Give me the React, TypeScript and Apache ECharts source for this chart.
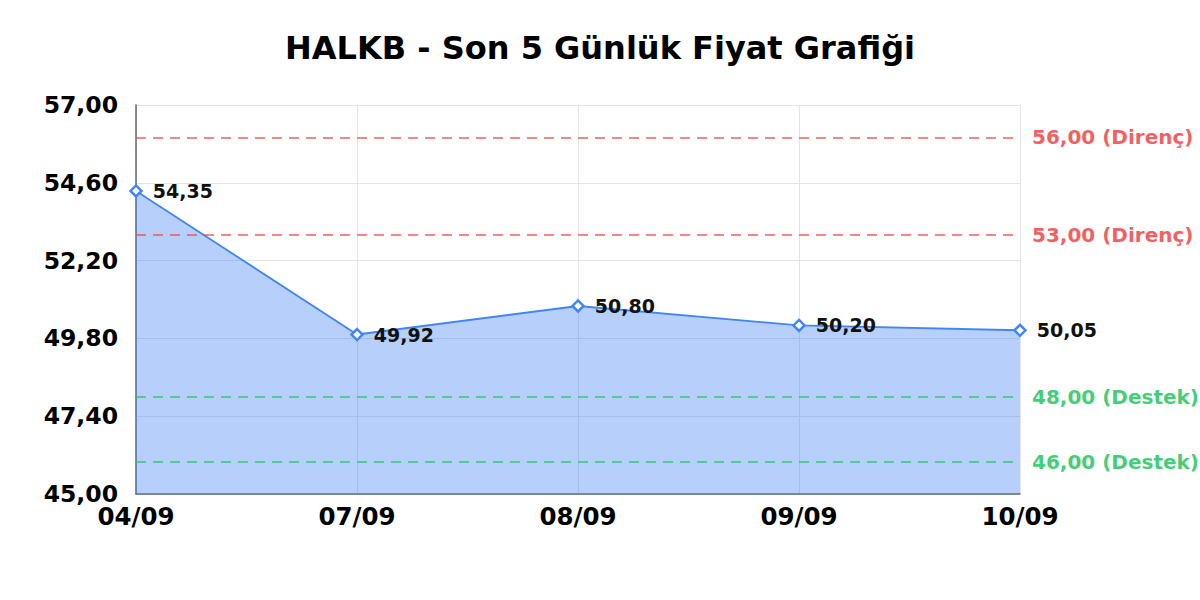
import * as echarts from "echarts";
import React, { useEffect, useRef } from "react";

const days = ["04/09", "07/09", "08/09", "09/09", "10/09"];
const prices = [54.35, 49.92, 50.8, 50.2, 50.05];
const yTicks = [45, 47.4, 49.8, 52.2, 54.6, 57];
const resistance = [56, 53];
const support = [48, 46];

const FONT = "DejaVu Sans";
const fmt = (v: number) => v.toFixed(2).replace(".", ",");

const levelLine = (value: number, kind: string, color: string) => ({
  yAxis: value,
  lineStyle: { color, type: [10, 7], width: 1.5, opacity: 0.85 },
  label: {
    show: true,
    position: "end",
    distance: 12,
    formatter: `${fmt(value)} (${kind})`,
    color,
    fontFamily: FONT,
    fontWeight: "bold",
    fontSize: 20,
  },
});

const App: React.FC = () => {
  const chartRef = useRef<HTMLDivElement | null>(null);

  useEffect(() => {
    document.body.style.margin = "0";
    const chart = echarts.init(chartRef.current, null, { renderer: "svg" });
    chart.setOption({
      animation: false,
      backgroundColor: "#ffffff",
      title: {
        text: "HALKB - Son 5 Günlük Fiyat Grafiği",
        left: "center",
        top: 27,
        textStyle: {
          fontFamily: FONT,
          fontWeight: "bold",
          fontSize: 32,
          color: "#000",
        },
      },
      grid: { left: 136, right: 180, top: 105, bottom: 106 },
      xAxis: {
        type: "category",
        data: days,
        boundaryGap: false,
        axisLine: { lineStyle: { color: "#666", width: 1.5 } },
        axisTick: { show: false },
        splitLine: { show: true, lineStyle: { color: "#e4e4e4" } },
        axisLabel: {
          color: "#000",
          fontFamily: FONT,
          fontWeight: "bold",
          fontSize: 24.5,
          margin: 10,
        },
      },
      yAxis: {
        type: "value",
        min: 45,
        max: 57,
        axisLine: { show: true, lineStyle: { color: "#666", width: 1.5 } },
        axisTick: { show: false, customValues: yTicks },
        splitLine: { show: true, lineStyle: { color: "#e4e4e4" } },
        axisLabel: {
          customValues: yTicks,
          formatter: (v: number) => fmt(v),
          color: "#000",
          fontFamily: FONT,
          fontWeight: "bold",
          fontSize: 23.5,
          margin: 18,
        },
      },
      series: [
        {
          type: "line",
          data: prices,
          symbol: "diamond",
          symbolSize: [11, 11],
          itemStyle: { color: "#ffffff", borderColor: "#4285f4", borderWidth: 2.5 },
          lineStyle: { color: "#4285f4", width: 1.8 },
          areaStyle: { color: "#4285f4", opacity: 0.39, origin: "start" },
          label: {
            show: true,
            position: "right",
            distance: 10,
            formatter: (p: any) => fmt(p.value),
            color: "#111",
            fontFamily: FONT,
            fontWeight: "bold",
            fontSize: 19,
          },
          markLine: {
            silent: true,
            symbol: "none",
            data: [
              ...resistance.map((v) => levelLine(v, "Direnç", "#ef4444")),
              ...support.map((v) => levelLine(v, "Destek", "#22c55e")),
            ],
          },
        },
      ],
    });
    return () => chart.dispose();
  }, []);

  return <div ref={chartRef} style={{ width: 1200, height: 600 }} />;
};

export default App;
